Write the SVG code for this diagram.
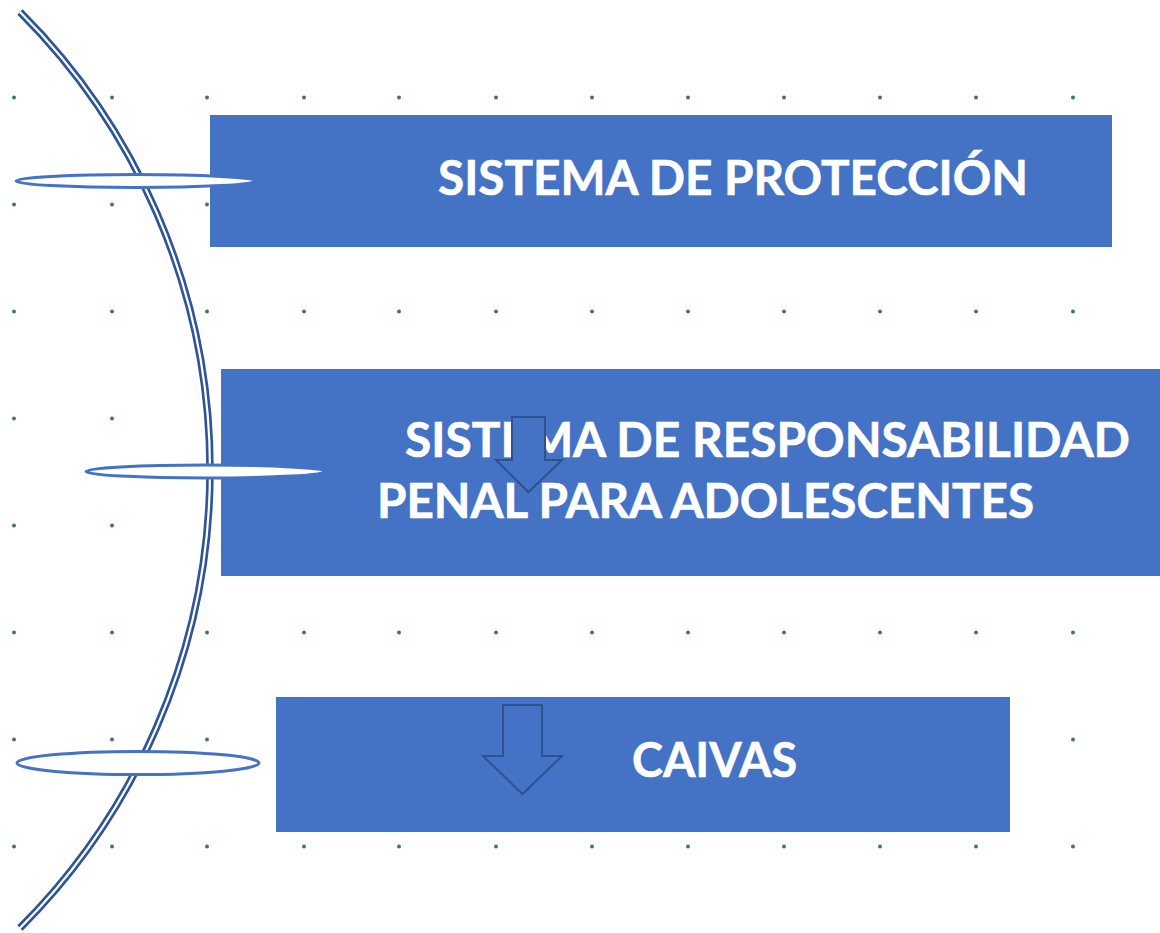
<svg xmlns="http://www.w3.org/2000/svg" width="1160" height="933" viewBox="0 0 1160 933">
<defs>
<style>
.dot{fill:#3f7a5a}
.box{fill:#4472C4}
.lbl{font-family:Lato,"Open Sans","Liberation Sans",sans-serif;font-weight:bold;font-size:47px;fill:#ffffff;stroke:#ffffff;stroke-width:0.6}
.ring{fill:#ffffff;stroke:#4472C4;stroke-width:3}
.arrow{fill:#4472C4;stroke:#2F528F;stroke-width:2;stroke-linejoin:miter}
</style>
<g id="dotrow">
<circle class="dot" cx="14" cy="0" r="2"/><circle class="dot" cx="112" cy="0" r="2"/><circle class="dot" cx="207" cy="0" r="2"/><circle class="dot" cx="304" cy="0" r="2"/><circle class="dot" cx="399" cy="0" r="2"/><circle class="dot" cx="496" cy="0" r="2"/><circle class="dot" cx="592" cy="0" r="2"/><circle class="dot" cx="688" cy="0" r="2"/><circle class="dot" cx="784" cy="0" r="2"/><circle class="dot" cx="880" cy="0" r="2"/><circle class="dot" cx="976" cy="0" r="2"/><circle class="dot" cx="1073" cy="0" r="2"/>
</g>
</defs>
<rect width="1160" height="933" fill="#ffffff"/>
<g id="grid">
<use href="#dotrow" y="97.5"/><use href="#dotrow" y="204.5"/><use href="#dotrow" y="311.5"/><use href="#dotrow" y="418.5"/><use href="#dotrow" y="525.5"/><use href="#dotrow" y="632.5"/><use href="#dotrow" y="739.5"/><use href="#dotrow" y="846.5"/>
</g>
<g id="arc">
<path d="M20,12 A647,647 0 0 1 20,928" fill="none" stroke="#2F5597" stroke-width="7.5"/>
<path d="M20,12 A647,647 0 0 1 20,928" fill="none" stroke="#ffffff" stroke-width="2.2"/>
</g>
<g id="node1">
<rect class="box" x="210" y="115" width="902" height="132"/>
<text class="lbl" x="438" y="195" textLength="590" lengthAdjust="spacingAndGlyphs">SISTEMA DE PROTECCIÓN</text>
</g>
<g id="node2">
<rect class="box" x="221" y="369" width="945" height="207"/>
<text class="lbl" x="405" y="457" textLength="725" lengthAdjust="spacingAndGlyphs">SISTEMA DE RESPONSABILIDAD</text>
<text class="lbl" x="377" y="518" textLength="657" lengthAdjust="spacingAndGlyphs">PENAL PARA ADOLESCENTES</text>
</g>
<g id="node3">
<rect class="box" x="276" y="697" width="734" height="135"/>
<text class="lbl" x="632" y="777" textLength="165" lengthAdjust="spacingAndGlyphs">CAIVAS</text>
</g>
<g id="connectors">
<path class="arrow" d="M512,417 L545,417 L545,460 L562,460 L528.5,492 L496,460 L512,460 Z"/>
<path class="arrow" d="M503,705 L542,705 L542,756 L562,756 L522.5,794 L483,756 L503,756 Z"/>
</g>
<g id="rings">
<ellipse class="ring" cx="136" cy="181" rx="120" ry="6.5"/>
<ellipse class="ring" cx="206" cy="471.5" rx="120" ry="6.5"/>
<ellipse class="ring" cx="138" cy="763" rx="121" ry="11.5"/>
</g>
</svg>
